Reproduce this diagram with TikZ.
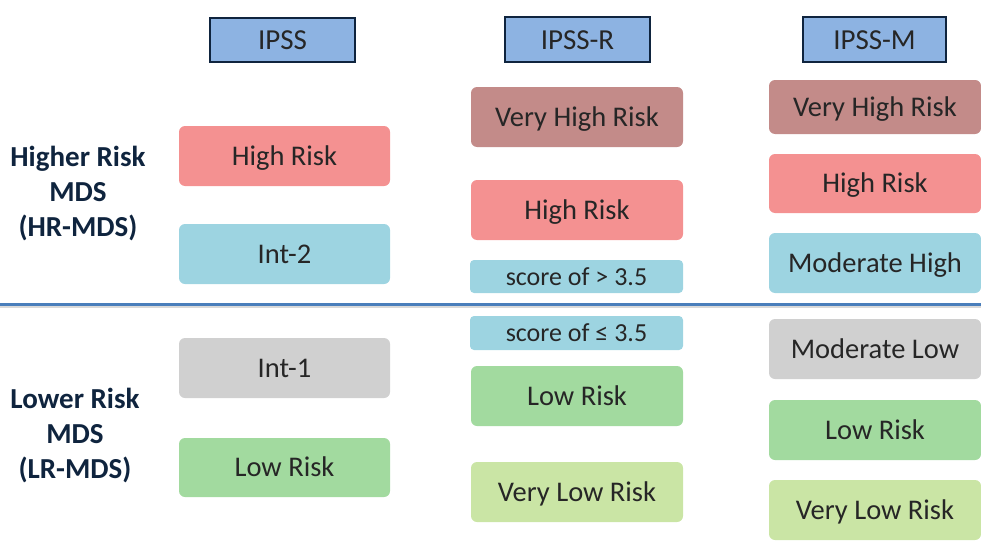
\documentclass[tikz,border=0pt]{standalone}
\usepackage{fontspec}
\setmainfont{Carlito}
\definecolor{hdrfill}{HTML}{8DB3E2}
\definecolor{hdrline}{HTML}{0F243E}
\definecolor{vhigh}{HTML}{C38B89}
\definecolor{high}{HTML}{F49191}
\definecolor{midblue}{HTML}{9DD4E1}
\definecolor{midgrey}{HTML}{D0D0D0}
\definecolor{low}{HTML}{A2DA9F}
\definecolor{vlow}{HTML}{CAE5A5}
\definecolor{divider}{HTML}{4A7EBB}
\definecolor{labeltext}{HTML}{0F243E}
\tikzset{
  x=1pt, y=-1pt,
  header/.style={draw=hdrline, line width=2pt, fill=hdrfill, inner sep=0pt,
    text height=19pt, text depth=0pt,
    font=\fontsize{29}{31}\selectfont, text=black!85},
  riskbox/.style={rounded corners=6pt, inner sep=0pt, text height=18.5pt, text depth=0pt,
    font=\fontsize{28.5}{30}\selectfont, text=black!85},
  scorebox/.style={rounded corners=4pt, inner sep=0pt, text height=17pt, text depth=0pt,
    font=\fontsize{26}{28}\selectfont, text=black!85, fill=midblue},
  grouplabel/.style={align=center, font=\bfseries\fontsize{29}{35}\selectfont, text=labeltext}
}
\begin{document}
\begin{tikzpicture}
\useasboundingbox (0,0) rectangle (981,551);

% column headers
\node[header, minimum width=145pt, minimum height=44pt] (hIPSS) at (282.5,40) {IPSS};
\node[header, minimum width=145pt, minimum height=45pt] (hIPSSR) at (577.5,39.5) {IPSS-R};
\node[header, minimum width=143pt, minimum height=45pt] (hIPSSM) at (874.5,39.5) {IPSS-M};

% IPSS column
\node[riskbox, fill=high, minimum width=211pt, minimum height=60pt] (a1) at (284.5,156) {High Risk};
\node[riskbox, fill=midblue, minimum width=211pt, minimum height=60pt] (a2) at (284.5,254) {Int-2};
\node[riskbox, fill=midgrey, minimum width=211pt, minimum height=60pt] (a3) at (284.5,368) {Int-1};
\node[riskbox, fill=low, minimum width=211pt, minimum height=59pt] (a4) at (284.5,467.5) {Low Risk};

% IPSS-R column
\node[riskbox, fill=vhigh, minimum width=212pt, minimum height=60pt] (b1) at (577,117) {Very High Risk};
\node[riskbox, fill=high, minimum width=212pt, minimum height=60pt] (b2) at (577,210) {High Risk};
\node[scorebox, minimum width=213pt, minimum height=33pt] (b3) at (576.5,276.5) {score of > 3.5};
\node[scorebox, minimum width=213pt, minimum height=34pt] (b4) at (576.5,333) {score of ≤ 3.5};
\node[riskbox, fill=low, minimum width=212pt, minimum height=60pt] (b5) at (577,396) {Low Risk};
\node[riskbox, fill=vlow, minimum width=212pt, minimum height=60pt] (b6) at (577,492) {Very Low Risk};

% IPSS-M column
\node[riskbox, fill=vhigh, minimum width=212pt, minimum height=54pt] (c1) at (875,107) {Very High Risk};
\node[riskbox, fill=high, minimum width=212pt, minimum height=59pt] (c2) at (875,183.5) {High Risk};
\node[riskbox, fill=midblue, minimum width=212pt, minimum height=60pt] (c3) at (875,263) {Moderate High};
\node[riskbox, fill=midgrey, minimum width=212pt, minimum height=60pt] (c4) at (875,349) {Moderate Low};
\node[riskbox, fill=low, minimum width=212pt, minimum height=60pt] (c5) at (875,430) {Low Risk};
\node[riskbox, fill=vlow, minimum width=212pt, minimum height=60pt] (c6) at (875,510) {Very Low Risk};

% risk group labels
\node[grouplabel] (hr) at (78,194) {Higher Risk\\MDS\\(HR-MDS)};
\node[grouplabel] (lr) at (75,436) {Lower Risk\\MDS\\(LR-MDS)};

% dividing line between higher and lower risk
\coordinate (divL) at (0,304);
\coordinate (divR) at (981,304);
\draw[black!15, line width=2pt] ([yshift=-3pt]divL) -- ([yshift=-3pt]divR);
\draw[divider, line width=3pt] (divL) -- (divR);
\end{tikzpicture}
\end{document}
